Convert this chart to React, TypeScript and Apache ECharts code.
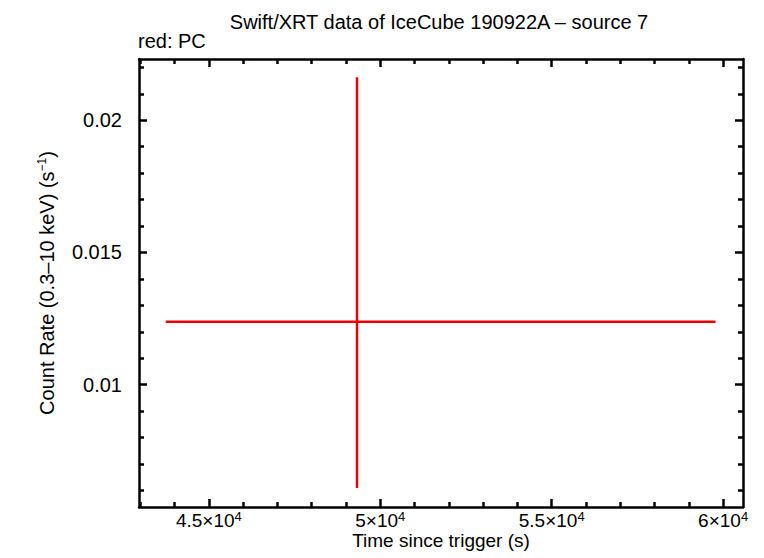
import { useEffect, useRef } from 'react';
import * as echarts from 'echarts';

// plot ranges
const xRange = [42962, 60580];
const yRange = [0.00537, 0.02232];

const xMajorTicks = [45000, 50000, 55000, 60000];
const xTickLabels = ['4.5×10^4', '5×10^4', '5.5×10^4', '6×10^4'];
const xMinorTicks = [
  43000, 44000, 46000, 47000, 48000, 49000, 51000, 52000, 53000, 54000,
  56000, 57000, 58000, 59000,
];

const yMajorTicks = [0.01, 0.015, 0.02];
const yTickLabels = ['0.01', '0.015', '0.02'];
const yMinorTicks = [
  0.006, 0.007, 0.008, 0.009, 0.011, 0.012, 0.013, 0.014, 0.016, 0.017,
  0.018, 0.019, 0.021, 0.022,
];

// PC mode: one bin
const pcTime = [49321];
const pcTimeLow = [43741];
const pcTimeHigh = [59779];
const pcRate = [0.012375];
const pcRateLow = [0.00609];
const pcRateHigh = [0.02163];

const FONT = "'Liberation Sans', Arial, sans-serif";
const RED = '#ee0000';

export default function App() {
  const chartRef = useRef<HTMLDivElement>(null);

  useEffect(() => {
    if (!chartRef.current) return;
    const chart = echarts.init(chartRef.current, null, { renderer: 'svg' });

    const frame = { color: '#000', width: 2.5 };
    const tickStyle = { color: '#000', width: 2.5 };
    const xAxisBase = (position: 'top' | 'bottom') => ({
      type: 'value' as const,
      position,
      min: xRange[0],
      max: xRange[1],
      splitLine: { show: false },
      axisLine: { show: false, onZero: false },
      axisLabel: { show: false },
    });
    const yAxisBase = (position: 'left' | 'right') => ({
      type: 'value' as const,
      position,
      min: yRange[0],
      max: yRange[1],
      splitLine: { show: false },
      axisLine: { show: false, onZero: false },
      axisLabel: { show: false },
    });

    const data = pcTime.map((t, i) => [t, pcRate[i], pcTimeLow[i], pcTimeHigh[i], pcRateLow[i], pcRateHigh[i]]);

    const option: echarts.EChartsOption = {
      animation: false,
      backgroundColor: '#fff',
      textStyle: { fontFamily: FONT },
      title: {
        text: 'Swift/XRT data of IceCube 190922A \u2013 source 7',
        left: 434,
        textAlign: 'center',
        top: 7,
        textStyle: { fontFamily: FONT, fontSize: 20, fontWeight: 'normal', color: '#000' },
      },
      graphic: [
        {
          type: 'text',
          left: 138,
          top: 31,
          style: { text: 'red: PC', fontFamily: FONT, fontSize: 20, fill: '#000' },
        },
      ],
      grid: { left: 139, top: 59, width: 604, height: 448, containLabel: false },
      xAxis: [
        {
          ...xAxisBase('bottom'),
          axisLine: { show: true, onZero: false, lineStyle: frame },
          axisTick: { show: true, inside: true, length: 8, lineStyle: tickStyle, customValues: xMajorTicks },
          axisLabel: {
            show: true,
            customValues: xMajorTicks,
            margin: 3,
            formatter: (v: number) => {
              const i = xMajorTicks.indexOf(Math.round(v));
              const [m, e] = (xTickLabels[i] || '').split('^');
              return `{b|${m}}{s|${e}}`;
            },
            rich: {
              b: { fontFamily: FONT, fontSize: 19, color: '#000', lineHeight: 20 },
              s: { fontFamily: FONT, fontSize: 13, color: '#000', verticalAlign: 'top', lineHeight: 13 },
            },
          },
          name: 'Time since trigger (s)',
          nameLocation: 'middle',
          nameGap: 24,
          nameMoveOverlap: false,
          nameTextStyle: { fontFamily: FONT, fontSize: 19, color: '#000', lineHeight: 19 },
        },
        {
          ...xAxisBase('bottom'),
          axisTick: { show: true, inside: true, length: 5, lineStyle: tickStyle, customValues: xMinorTicks },
        },
        {
          ...xAxisBase('top'),
          axisLine: { show: true, onZero: false, lineStyle: frame },
          axisTick: { show: true, inside: true, length: 8, lineStyle: tickStyle, customValues: xMajorTicks },
        },
        {
          ...xAxisBase('top'),
          axisTick: { show: true, inside: true, length: 5, lineStyle: tickStyle, customValues: xMinorTicks },
        },
      ],
      yAxis: [
        {
          ...yAxisBase('left'),
          axisLine: { show: true, onZero: false, lineStyle: frame },
          axisTick: { show: true, inside: true, length: 8, lineStyle: tickStyle, customValues: yMajorTicks },
          axisLabel: {
            show: true,
            customValues: yMajorTicks,
            margin: 17,
            fontFamily: FONT,
            fontSize: 20,
            color: '#000',
            formatter: (v: number) => {
              const i = yMajorTicks.findIndex((t) => Math.abs(t - v) < 1e-9);
              return yTickLabels[i] || '';
            },
          },
          name: '{a|Count Rate (0.3\u201310 keV) (s}{s|\u22121}{a|)}',
          nameLocation: 'middle',
          nameRotate: 90,
          nameGap: 81,
          nameMoveOverlap: false,
          nameTextStyle: {
            rich: {
              a: { fontFamily: FONT, fontSize: 20, color: '#000', lineHeight: 22 },
              s: { fontFamily: FONT, fontSize: 12, color: '#000', verticalAlign: 'top', lineHeight: 12 },
            },
          },
        },
        {
          ...yAxisBase('left'),
          axisTick: { show: true, inside: true, length: 5, lineStyle: tickStyle, customValues: yMinorTicks },
        },
        {
          ...yAxisBase('right'),
          axisLine: { show: true, onZero: false, lineStyle: frame },
          axisTick: { show: true, inside: true, length: 8, lineStyle: tickStyle, customValues: yMajorTicks },
        },
        {
          ...yAxisBase('right'),
          axisTick: { show: true, inside: true, length: 5, lineStyle: tickStyle, customValues: yMinorTicks },
        },
      ],
      series: [
        {
          type: 'custom',
          xAxisIndex: 0,
          yAxisIndex: 0,
          data,
          encode: { x: [0, 2, 3], y: [1, 4, 5] },
          renderItem: (_params: unknown, api: any) => {
            const x = api.value(0);
            const y = api.value(1);
            const l = api.coord([api.value(2), y]);
            const r = api.coord([api.value(3), y]);
            const b = api.coord([x, api.value(4)]);
            const t = api.coord([x, api.value(5)]);
            const style = { stroke: RED, lineWidth: 2.5 };
            return {
              type: 'group',
              children: [
                { type: 'line', shape: { x1: l[0], y1: l[1], x2: r[0], y2: r[1] }, style },
                { type: 'line', shape: { x1: b[0], y1: b[1], x2: t[0], y2: t[1] }, style },
              ],
            };
          },
        },
      ],
    };

    chart.setOption(option);
    return () => chart.dispose();
  }, []);

  return (
    <div
      ref={chartRef}
      style={{ position: 'fixed', left: 0, top: 0, width: 764, height: 558 }}
    />
  );
}
